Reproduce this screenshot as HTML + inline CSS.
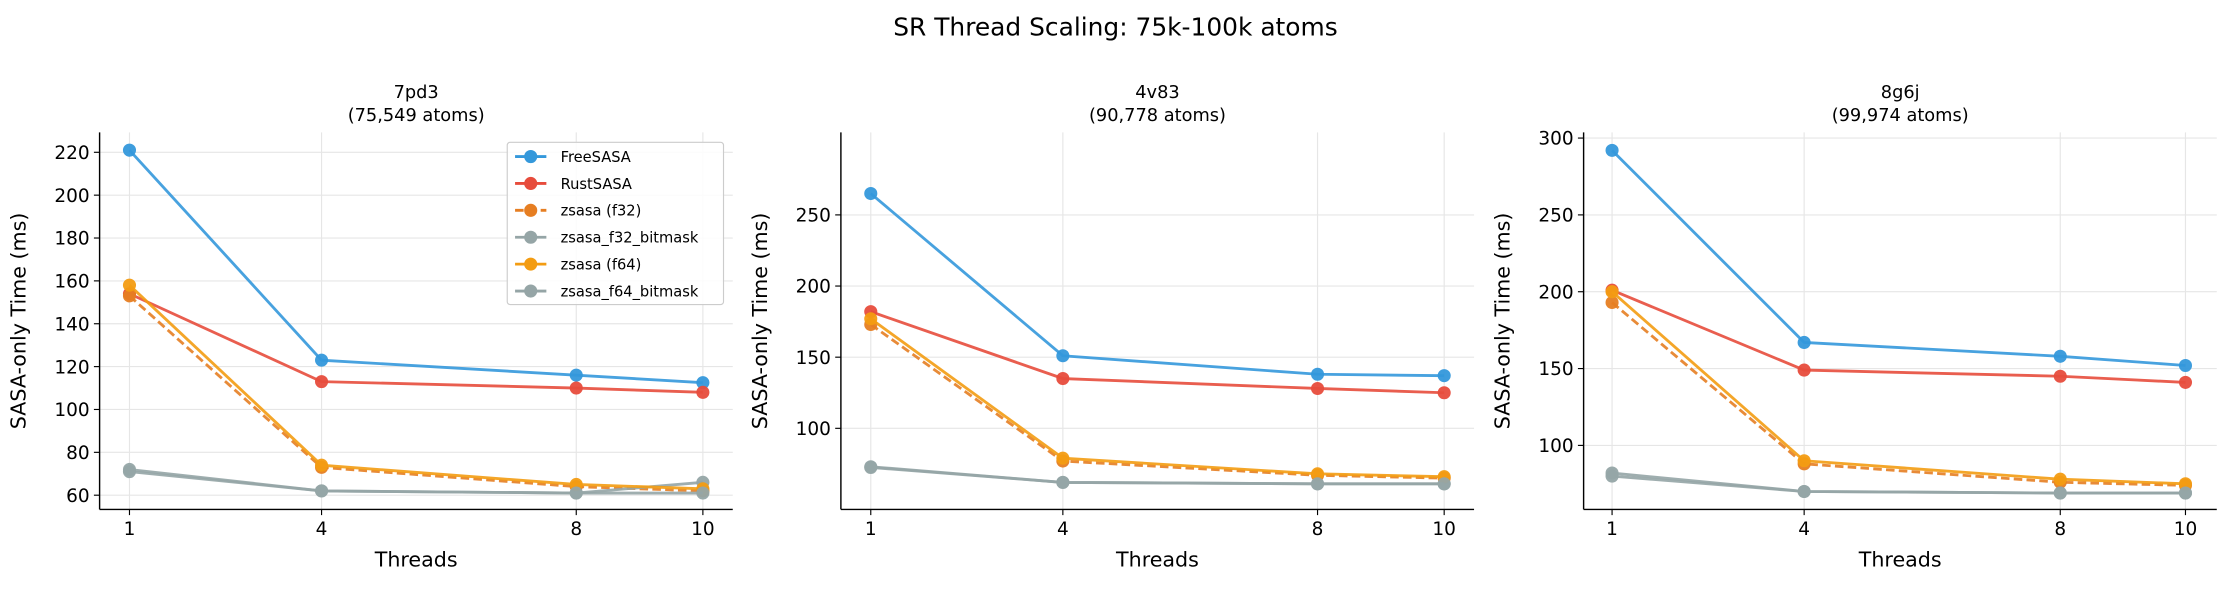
<!DOCTYPE html>
<html><head><meta charset="utf-8"><style>
html,body{margin:0;padding:0;background:#fff;}
svg{display:block;font-family:"DejaVu Sans","Liberation Sans",sans-serif;}
</style></head><body>
<svg id="s" width="2231" height="592" viewBox="0 0 1568 416" xmlns="http://www.w3.org/2000/svg">
<rect width="1568" height="416" fill="#fff"/>
<text x="784" y="25" font-size="17.5" text-anchor="middle" fill="#000">SR Thread Scaling: 75k-100k atoms</text>
</svg>
<script>
(function(){
const S=document.getElementById('s');const NS='http://www.w3.org/2000/svg';
function el(t,a,txt){const e=document.createElementNS(NS,t);for(const k in a)e.setAttribute(k,a[k]);if(txt!==undefined)e.textContent=txt;S.appendChild(e);return e;}
const cols={free:'#3498db',rust:'#e74c3c',f32:'#e67e22',bm:'#95a5a6',f64:'#f39c12'};
const panels=[
 {l:70,r:515,xs:[91,226,405,494],y0:60,py0:348,y1:220,py1:107,ticks:[60,80,100,120,140,160,180,200,220],t1:'7pd3',t2:'(75,549 atoms)',
  d:{free:[221,123,116,112.5],rust:[154,113,110,108],f32:[153,73,64,62],bm1:[71,62,61,66],f64:[158,74,65,63],bm2:[72,62,61,61]},leg:true},
 {l:591,r:1036,xs:[612,747,926,1015],y0:100,py0:301,y1:250,py1:151,ticks:[100,150,200,250],t1:'4v83',t2:'(90,778 atoms)',
  d:{free:[265,151,138,137],rust:[182,135,128,125],f32:[173,77,67,65],bm1:[73,62,61,61],f64:[177,79,68,66],bm2:[72.5,62,61,61]}},
 {l:1113,r:1558,xs:[1133,1268,1448,1536],y0:100,py0:313,y1:300,py1:97,ticks:[100,150,200,250,300],t1:'8g6j',t2:'(99,974 atoms)',
  d:{free:[292,167,158,152],rust:[201,149,145,141],f32:[193,88,76,74],bm1:[82,70,69,69],f64:[200,90,78,75],bm2:[80,70,69,69]}}
];
const axTop=93,bot=358;
panels.forEach(p=>{
 const Y=v=>p.py0+(v-p.y0)*(p.py1-p.py0)/(p.y1-p.y0);
 const cx=(p.l+p.r)/2;
 el('text',{x:cx,y:69,'font-size':12.5,'text-anchor':'middle'},p.t1);
 el('text',{x:cx,y:85,'font-size':12.5,'text-anchor':'middle'},p.t2);
 p.xs.forEach((x,i)=>{el('line',{x1:x,x2:x,y1:axTop,y2:bot,stroke:'#e6e6e6','stroke-width':0.8});
  el('line',{x1:x,x2:x,y1:bot,y2:bot+4,stroke:'#000','stroke-width':0.8});
  el('text',{x:x,y:bot+18,'font-size':13,'text-anchor':'middle'},[1,4,8,10][i]);});
 p.ticks.forEach(t=>{const y=Y(t);el('line',{x1:p.l,x2:p.r,y1:y,y2:y,stroke:'#e6e6e6','stroke-width':0.8});
  el('line',{x1:p.l-4,x2:p.l,y1:y,y2:y,stroke:'#000','stroke-width':0.8});
  el('text',{x:p.l-7,y:y+4.7,'font-size':13,'text-anchor':'end'},t);});
 el('line',{x1:p.l,x2:p.l,y1:axTop,y2:bot,stroke:'#000','stroke-width':1});
 el('line',{x1:p.l,x2:p.r,y1:bot,y2:bot,stroke:'#000','stroke-width':1});
 el('text',{x:cx,y:bot+40,'font-size':14.5,'text-anchor':'middle'},'Threads');
 el('text',{x:0,y:0,'font-size':14.5,'text-anchor':'middle',transform:'translate('+(p.l-52)+','+((axTop+bot)/2)+') rotate(-90)'},'SASA-only Time (ms)');
 const order=[['free',cols.free,false],['rust',cols.rust,false],['f32',cols.f32,true],['bm1',cols.bm,false],['f64',cols.f64,false],['bm2',cols.bm,false]];
 order.forEach(([k,c,dash])=>{const pts=p.d[k].map((v,i)=>p.xs[i]+','+Y(v)).join(' ');
  const a={points:pts,fill:'none',stroke:c,'stroke-width':2,opacity:0.9};if(dash)a['stroke-dasharray']='6,3';el('polyline',a);
  p.d[k].forEach((v,i)=>el('circle',{cx:p.xs[i],cy:Y(v),r:4.6,fill:c,opacity:0.95}));});
 if(p.leg){el('rect',{x:356.5,y:100,width:152,height:114,rx:2,fill:'#fff','fill-opacity':0.85,stroke:'#ccc','stroke-width':0.8});
  const names=['FreeSASA','RustSASA','zsasa (f32)','zsasa_f32_bitmask','zsasa (f64)','zsasa_f64_bitmask'];
  order.forEach(([k,c,dash],i)=>{const y=110+i*18.9;const a={x1:362,x2:384,y1:y,y2:y,stroke:c,'stroke-width':2};if(dash)a['stroke-dasharray']='6,3';el('line',a);
   el('circle',{cx:373,cy:y,r:4.6,fill:c});el('text',{x:394,y:y+3.8,'font-size':10.3},names[i]);});}
});
})();
</script>
</body></html>
